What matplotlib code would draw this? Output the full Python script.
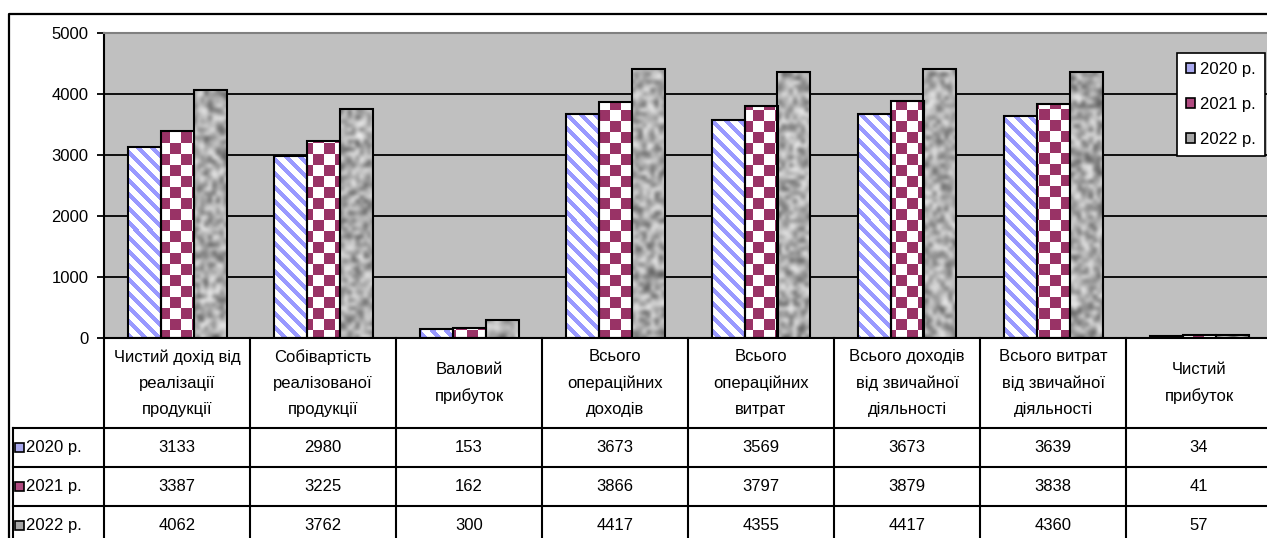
import numpy as np
import matplotlib
matplotlib.use("Agg")
from matplotlib import pyplot as plt
from matplotlib.patches import Patch, Rectangle
from matplotlib.lines import Line2D

plt.rcParams["font.family"] = ["Liberation Sans", "DejaVu Sans"]

categories = [
    "Чистий дохід від\nреалізації\nпродукції",
    "Собівартість\nреалізованої\nпродукції",
    "Валовий\nприбуток",
    "Всього\nопераційних\nдоходів",
    "Всього\nопераційних\nвитрат",
    "Всього доходів\nвід звичайної\nдіяльності",
    "Всього витрат\nвід звичайної\nдіяльності",
    "Чистий\nприбуток",
]
series_names = ["2020 р.", "2021 р.", "2022 р."]
v2020 = [3133, 2980, 153, 3673, 3569, 3673, 3639, 34]
v2021 = [3387, 3225, 162, 3866, 3797, 3879, 3838, 41]
v2022 = [4062, 3762, 300, 4417, 4355, 4417, 4360, 57]
series = [v2020, v2021, v2022]
yticks = [0, 1000, 2000, 3000, 4000, 5000]

W, H = 1267, 538
FS = 12
fig = plt.figure(figsize=(W / 100, H / 100), dpi=100)

# plot area in pixel geometry of the reference
ax_l, ax_top, ax_bot, col_w = 104, 33, 338, 146
ax = fig.add_axes([ax_l / W, 1 - ax_bot / H, 8 * col_w / W, (ax_bot - ax_top) / H])
ax.set_facecolor("#c0c0c0")
ax.set_xlim(-0.5, len(categories) - 0.5)
ax.set_ylim(0, 5000)
ax.set_xticks([])
ax.set_yticks(yticks)
ax.tick_params(axis="y", direction="out", length=5, width=1.3, pad=6, labelsize=FS)
for s in ["left", "bottom"]:
    ax.spines[s].set_linewidth(1.5)
ax.spines["top"].set_color("#808080")
ax.spines["top"].set_linewidth(1.5)
ax.spines["right"].set_visible(False)
for t in yticks[1:-1]:
    ax.axhline(t, color="black", lw=1.3, zorder=1)

# textures (pixel-based, covering the full plot area)
ph, pw = ax_bot - ax_top, 8 * col_w
rr, cc = np.mgrid[0:ph, 0:pw]
stripes = np.ones((ph, pw, 3))
mask = ((cc - rr) % 14) < 6
stripes[mask] = np.array([0.6, 0.6, 1.0])
checker = np.ones((ph, pw, 3))
cmask = ((cc // 11) + (rr // 11)) % 2 == 0
checker[cmask] = np.array([0x99, 0x33, 0x66]) / 255
rng = np.random.default_rng(7)
granite = rng.random((ph // 4 + 1, pw // 4 + 1)) ** 0.8

textures = [
    dict(X=stripes, interpolation="nearest"),
    dict(X=checker, interpolation="nearest"),
    dict(X=granite, interpolation="bicubic", cmap="gray", vmin=-0.55, vmax=1.1),
]

bw = 33 / col_w
x = np.arange(len(categories))
for i, vals in enumerate(series):
    xs = x + (i - 1) * bw
    bars = ax.bar(xs, vals, width=bw, color="white", linewidth=0, zorder=2)
    for b in bars:
        im = ax.imshow(aspect="auto", extent=(-0.5, len(categories) - 0.5, 0, 5000),
                       zorder=2.5, **textures[i])
        im.set_clip_path(b)
    ax.bar(xs, vals, width=bw, fill=False, edgecolor="black", linewidth=1.5, zorder=3)
ax.set_xlim(-0.5, len(categories) - 0.5)
ax.set_ylim(0, 5000)

legend_colors = ["#a9a9ee", "#b04a80", "#a6a6a6"]
handles = [Patch(facecolor=c, edgecolor="black", linewidth=1.2) for c in legend_colors]
leg = ax.legend(handles, series_names, loc="upper left",
                bbox_to_anchor=(1177 / W, 1 - 53 / H), bbox_transform=fig.transFigure,
                borderaxespad=0, fancybox=False, framealpha=1, edgecolor="black",
                fontsize=FS, handlelength=0.55, handleheight=0.55, handletextpad=0.3,
                labelspacing=1.2, borderpad=0.55)
leg.get_frame().set_linewidth(1.2)

# data table below the plot (y in pixels below the x-axis)
tax = fig.add_axes([ax_l / W, 0, 8 * col_w / W, (H - ax_bot) / H])
tax.set_xlim(-0.5, len(categories) - 0.5)
tax.set_ylim(H - ax_bot, 0)
tax.axis("off")
row_lines = [90, 129, 168]
x_lab = -0.5 + (13 - ax_l) / col_w
for k in range(len(categories) + 1):
    tax.plot([k - 0.5, k - 0.5], [0, 210], color="black", lw=1.5, clip_on=False)
for yl in row_lines:
    tax.plot([x_lab, len(categories) - 0.5], [yl, yl], color="black", lw=1.5, clip_on=False)
tax.plot([x_lab, x_lab], [row_lines[0], 210], color="black", lw=1.5, clip_on=False)

for i, lab in enumerate(categories):
    tax.text(i, 45, lab, ha="center", va="center", fontsize=FS, linespacing=1.9)
for r, vals in enumerate(series):
    yc = row_lines[r] + 19.5
    for i, v in enumerate(vals):
        tax.text(i, yc, str(v), ha="center", va="center", fontsize=FS)
    tax.add_patch(Rectangle((-0.5 + (15 - ax_l) / col_w, yc - 4.5), 9 / col_w, 9,
                            facecolor=legend_colors[r], edgecolor="black", lw=1.2,
                            clip_on=False))
    tax.text(-0.5 + (26 - ax_l) / col_w, yc, series_names[r], ha="left", va="center",
             fontsize=FS)

# outer chart border
fig.add_artist(Line2D([9 / W, 9 / W, 1.01], [-0.01, 1 - 14 / H, 1 - 14 / H],
                      transform=fig.transFigure, color="black", lw=1.6))

plt.savefig("out.png", dpi=100)
plt.close()
